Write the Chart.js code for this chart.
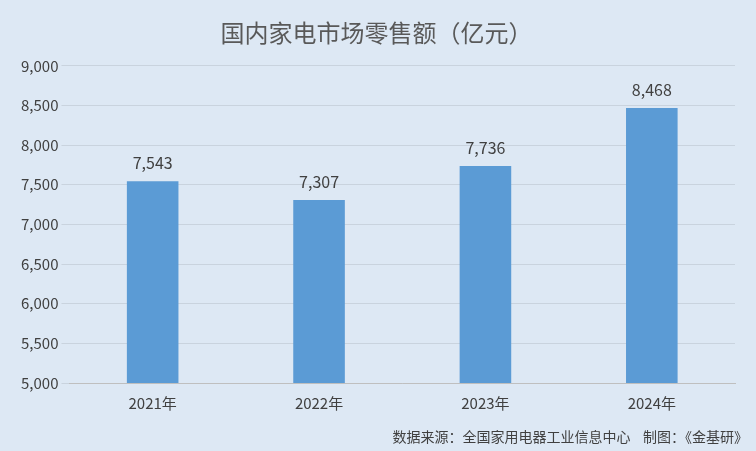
<!DOCTYPE html>
<html><head><meta charset="utf-8">
<script src="https://cdn.jsdelivr.net/npm/chart.js@4"></script>
<style>html,body{margin:0;padding:0;background:#dde8f4;}#w{width:756px;height:451px;position:relative;}</style>
</head><body><div id="w"><canvas id="c"></canvas></div>
<script>
const categories=['2021年','2022年','2023年','2024年'];
const values=[7543,7307,7736,8468];
const labelPlugin={id:'lbl',afterDatasetsDraw(ch){const ctx=ch.ctx;const m=ch.getDatasetMeta(0);ctx.save();ctx.font='16px "Noto Sans CJK SC", sans-serif';ctx.fillStyle='#404040';ctx.textAlign='center';ctx.textBaseline='bottom';m.data.forEach((b,i)=>{ctx.fillText(values[i].toLocaleString('en-US'),b.x,b.y-10);});ctx.restore();}};
new Chart(document.getElementById('c'),{type:'bar',data:{labels:categories,datasets:[{data:values,backgroundColor:'#5b9bd5',barPercentage:0.31,categoryPercentage:1}]},
options:{responsive:true,maintainAspectRatio:false,animation:false,devicePixelRatio:1,
layout:{padding:{left:18,right:21,top:0,bottom:36}},
plugins:{legend:{display:false},tooltip:{enabled:false},title:{display:true,text:'国内家电市场零售额（亿元）',color:'#595959',font:{size:24,family:'"Noto Sans CJK SC", sans-serif',weight:'normal'},padding:{top:18,bottom:19}}},
scales:{x:{grid:{display:false},border:{color:'#bfbfbf'},ticks:{color:'#404040',font:{size:15,family:'"Noto Sans CJK SC", sans-serif'}}},
y:{min:5000,max:9000,ticks:{stepSize:500,color:'#404040',font:{size:15,family:'"Noto Sans CJK SC", sans-serif'},callback:v=>v.toLocaleString('en-US')},grid:{color:'#c9d3de'},border:{display:false}}}},
plugins:[labelPlugin,{id:'src',afterDraw(ch){const ctx=ch.ctx;ctx.save();ctx.font='14px "Noto Sans CJK SC", sans-serif';ctx.fillStyle='#404040';ctx.textAlign='right';ctx.textBaseline='middle';ctx.fillText('数据来源：全国家用电器工业信息中心    制图：《金基研》',748,437);ctx.restore();}}]});
</script></body></html>
